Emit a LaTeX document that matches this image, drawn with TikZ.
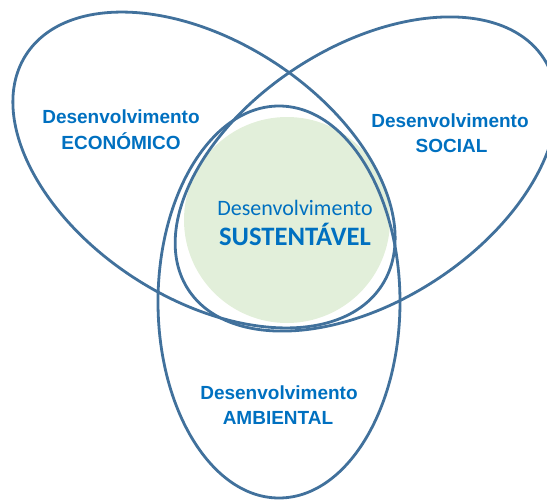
\documentclass[tikz,border=0pt]{standalone}
\usepackage{fontspec}
\setmainfont{Liberation Sans}
\newfontfamily\carlitofont{Carlito}
\definecolor{edgeblue}{RGB}{65,113,156}
\definecolor{softgreen}{RGB}{226,239,218}
\definecolor{textblue}{RGB}{0,112,192}
\begin{document}
\begin{tikzpicture}[x=0.5pt,y=0.5pt,
  ring/.style={draw=edgeblue, line width=1.4pt},
  lbl/.style={text=textblue, font=\bfseries\fontsize{9.5}{12}\selectfont, anchor=base, inner sep=0pt},
  clbl/.style={text=textblue, font=\carlitofont\fontsize{11}{13}\selectfont, anchor=base, inner sep=0pt},
  cbig/.style={text=textblue, font=\carlitofont\bfseries\fontsize{13.3}{16}\selectfont, anchor=base, inner sep=0pt}]
\useasboundingbox (0,0) rectangle (547,500);
\clip (0,0) rectangle (547,500);
% central green disc
\fill[softgreen] (287,280) circle [radius=103];
% three ellipses
\draw[ring, rotate around={-33:(204,330)}] (204,330) ellipse [x radius=212, y radius=128.5];
\draw[ring, rotate around={33:(366,326)}] (366,326) ellipse [x radius=212, y radius=127];
\draw[ring] (279,198) ellipse [x radius=121, y radius=196];
% labels
\node[lbl] (e1) at (121,376.5) {Desenvolvimento};
\node[lbl] (e2) at (121,351) {ECONÓMICO};
\node[lbl] (s1) at (450,373) {Desenvolvimento};
\node[lbl] (s2) at (451.5,348) {SOCIAL};
\node[lbl] (a1) at (279,101) {Desenvolvimento};
\node[lbl] (a2) at (278,76) {AMBIENTAL};
\node[clbl] (c1) at (295,285) {Desenvolvimento};
\node[cbig] (c2) at (295,255) {SUSTENTÁVEL};
\end{tikzpicture}
\end{document}
